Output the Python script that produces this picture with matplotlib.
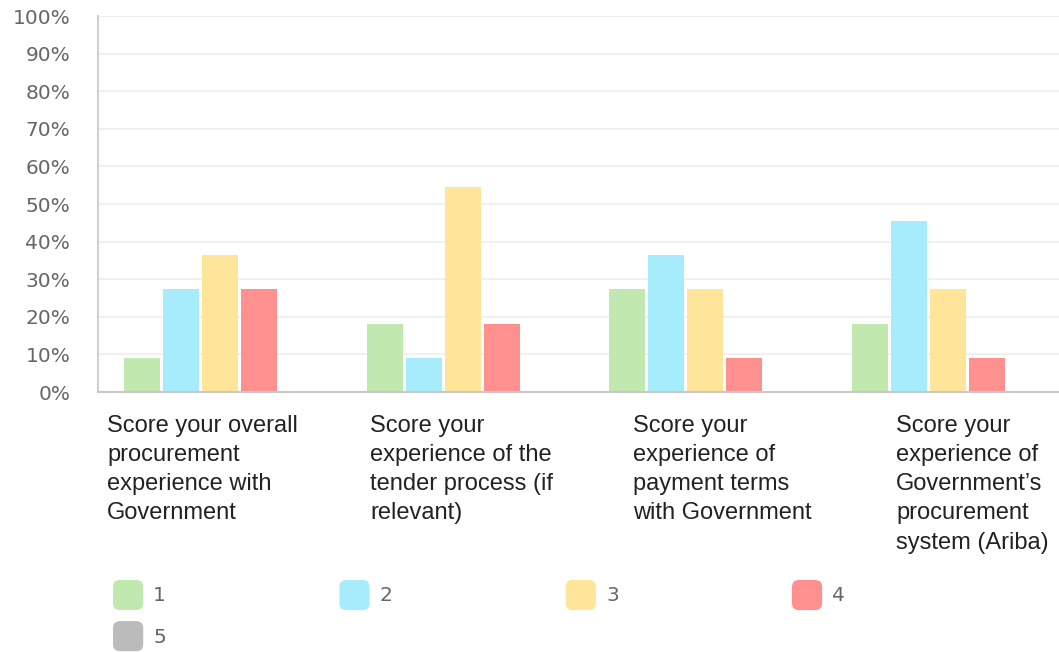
import numpy as np
import matplotlib.pyplot as plt
from matplotlib.patches import Patch, FancyBboxPatch
from matplotlib.legend_handler import HandlerPatch

# Data (share of respondents per score)
questions = [
    "Score your overall\nprocurement\nexperience with\nGovernment",
    "Score your\nexperience of the\ntender process (if\nrelevant)",
    "Score your\nexperience of\npayment terms\nwith Government",
    "Score your\nexperience of\nGovernment\u2019s\nprocurement\nsystem (Ariba)",
]
scores = ["1", "2", "3", "4", "5"]
score_1 = [9.09, 18.18, 27.27, 18.18]
score_2 = [27.27, 9.09, 36.36, 45.45]
score_3 = [36.36, 54.55, 27.27, 27.27]
score_4 = [27.27, 18.18, 9.09, 9.09]
score_5 = [0, 0, 0, 0]
series = [score_1, score_2, score_3, score_4, score_5]
colors = ["#c1e8ae", "#a6ecfc", "#fee599", "#ff9090", "#bbbbbb"]


class RoundHandler(HandlerPatch):
    def create_artists(self, legend, orig_handle, xdescent, ydescent,
                       width, height, fontsize, trans):
        p = FancyBboxPatch((-xdescent + 3, -ydescent + 3), width - 6, height - 6,
                           boxstyle="round,pad=3,rounding_size=5",
                           facecolor=orig_handle.get_facecolor(),
                           edgecolor="none", transform=trans)
        return [p]


fig = plt.figure(figsize=(10.59, 6.52), dpi=100)
ax = fig.add_axes([98 / 1059, 260 / 652, 1.0 - 98 / 1059, 376 / 652])

x = np.arange(len(questions))
slot = 0.161
width = 0.149
for i, vals in enumerate(series):
    ax.bar(x + (i - 2) * slot + 0.004, vals, width, color=colors[i], zorder=2)

ax.set_xlim(-0.5, 3.463)
ax.set_ylim(0, 100)
ax.set_yticks(np.arange(0, 101, 10))
ax.set_yticklabels([f"{v}%" for v in range(0, 101, 10)])
ax.set_xticks([])
ax.tick_params(axis="y", length=0, pad=20, labelsize=14.5, labelcolor="#666666")
ax.grid(axis="y", color="#eeeeee", linewidth=1.2, zorder=0)
for s in ["top", "right"]:
    ax.spines[s].set_visible(False)
ax.spines["left"].set_color("#d0d0d0")
ax.spines["bottom"].set_color("#c8c8c8")
ax.spines["left"].set_linewidth(1.5)
ax.spines["bottom"].set_linewidth(1.5)

for i, q in enumerate(questions):
    fig.text((107 + i * 263) / 1059, 1 - 415 / 652, q, ha="left", va="top",
             fontsize=17, family="Liberation Sans", color="#222222",
             linespacing=1.42)

handles = [Patch(facecolor=c) for c in colors]
order = [0, 4, 1, 2, 3]
leg = fig.legend([handles[k] for k in order], [scores[k] for k in order],
                 ncol=4, loc="upper left",
                 bbox_to_anchor=(113 / 1059, 1 - 580 / 652),
                 frameon=False, borderaxespad=0, borderpad=0,
                 fontsize=14.5, handlelength=1.5, handleheight=1.92,
                 handletextpad=0.5, columnspacing=8.6, labelspacing=0.55,
                 handler_map={Patch: RoundHandler()})
for t in leg.get_texts():
    t.set_color("#666666")

fig.savefig("out.png", dpi=100)
